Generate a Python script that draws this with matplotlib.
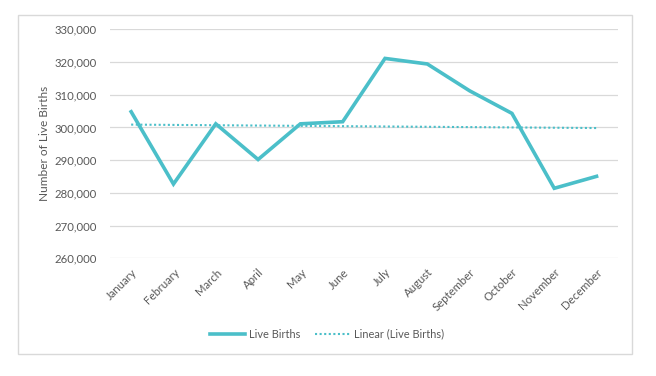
import numpy as np
import matplotlib
matplotlib.use("Agg")
import matplotlib.pyplot as plt
from matplotlib.patches import Rectangle
from matplotlib.ticker import FuncFormatter, MultipleLocator

months = ["January", "February", "March", "April", "May", "June", "July",
          "August", "September", "October", "November", "December"]
live_births = [304800, 282700, 301100, 290200, 301100, 301750, 321100,
               319400, 311200, 304300, 281400, 285050]

plt.rcParams['font.family'] = ['Lato', 'DejaVu Sans']
text_color = '#595959'
line_color = '#4BBFC9'

fig = plt.figure(figsize=(6.56, 3.76), dpi=100)
fig.patch.set_facecolor('white')
fig.patches.append(Rectangle((18/656, 1-354/376), (632-18)/656, (354-15)/376,
                             transform=fig.transFigure, fill=False,
                             edgecolor='#D9D9D9', linewidth=1.0))

ax = fig.add_axes([110/656, 1-258.3/376, (617.7-110)/656, (258.3-29.3)/376])
x = np.arange(len(months))
ax.plot(x, live_births, color=line_color, linewidth=2.6, label='Live Births',
        solid_joinstyle='miter', zorder=3)
coef = np.polyfit(x, live_births, 1)
ax.plot(x, np.polyval(coef, x), color=line_color, linewidth=1.5,
        linestyle=(0, (1, 1.2)), label='Linear (Live Births)', zorder=2)

ax.set_xlim(-0.5, len(months) - 0.5)
ax.set_ylim(260000, 330000)
ax.yaxis.set_major_locator(MultipleLocator(10000))
ax.yaxis.set_major_formatter(FuncFormatter(lambda v, p: f"{int(v):,}"))
ax.grid(axis='y', color='#D9D9D9', linewidth=0.9)
ax.set_axisbelow(True)
for s in ax.spines.values():
    s.set_visible(False)
ax.tick_params(axis='both', length=0, colors=text_color)
ax.tick_params(axis='y', pad=9.5, labelsize=8.2)
ax.set_xticks(x)
ax.set_xticklabels(months, rotation=45, ha='right', rotation_mode='anchor')
ax.tick_params(axis='x', pad=6, labelsize=8.2)
ax.set_ylabel('Number of Live Births', color=text_color, fontsize=8.6, labelpad=3)

leg = fig.legend(*ax.get_legend_handles_labels(), loc='center',
                 bbox_to_anchor=(327 / 656, 1 - 334 / 376),
                 ncol=2, frameon=False, fontsize=7.9, handlelength=3.2,
                 columnspacing=1.4, handletextpad=0.3)
for t in leg.get_texts():
    t.set_color(text_color)

fig.savefig('out.png', dpi=100)
